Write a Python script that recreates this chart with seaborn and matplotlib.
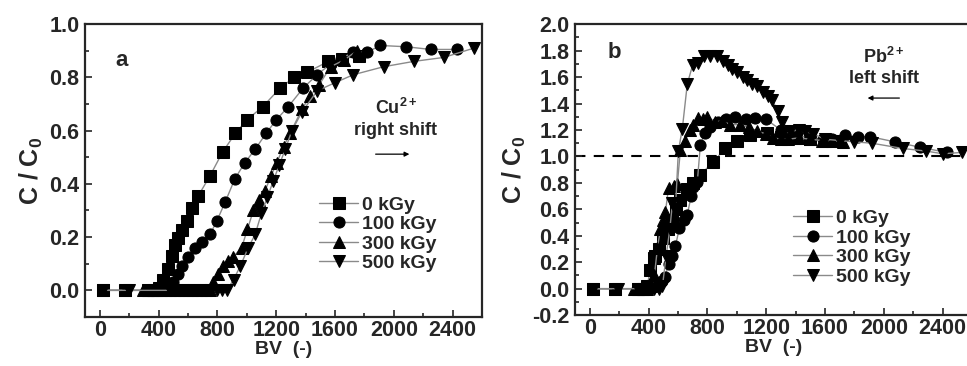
import matplotlib
matplotlib.use("Agg")
import matplotlib.pyplot as plt
import seaborn as sns
from matplotlib.ticker import MultipleLocator

sns.set_style("ticks")
plt.rcParams["font.family"] = ["Liberation Sans", "DejaVu Sans"]
plt.rcParams["font.weight"] = "bold"
plt.rcParams["axes.unicode_minus"] = False
plt.rcParams["mathtext.fontset"] = "custom"
plt.rcParams["mathtext.rm"] = "Liberation Sans:bold"
plt.rcParams["mathtext.it"] = "Liberation Sans:bold"
plt.rcParams["mathtext.bf"] = "Liberation Sans:bold"

labels = ["0 kGy", "100 kGy", "300 kGy", "500 kGy"]
markers = ["s", "o", "^", "v"]

# panel a - Cu2+
a0_x = [20, 170, 330, 370, 400, 430, 465, 490, 510, 533, 557, 592, 625, 670, 750, 836, 923, 1000,
        1109, 1227, 1323, 1413, 1555, 1650, 1760]
a0_y = [0, 0, 0, 0, 0.01, 0.04, 0.08, 0.13, 0.17, 0.195, 0.225, 0.26, 0.31, 0.355, 0.43, 0.52, 0.59,
        0.64, 0.69, 0.76, 0.80, 0.82, 0.86, 0.87, 0.88]
a1_x = [20, 170, 360, 400, 440, 470, 500, 530, 557, 600, 648, 693, 750, 796, 852, 920, 988, 1057,
        1132, 1200, 1282, 1384, 1478, 1570, 1640, 1725, 1820, 1909, 2086, 2250, 2433]
a1_y = [0, 0, 0, 0, 0, 0.01, 0.03, 0.06, 0.09, 0.125, 0.16, 0.18, 0.21, 0.26, 0.33, 0.42, 0.48, 0.53,
        0.59, 0.64, 0.69, 0.76, 0.81, 0.85, 0.87, 0.895, 0.895, 0.92, 0.915, 0.905, 0.905]
a3_x = [20, 170, 295, 330, 360, 390, 420, 450, 480, 510, 540, 570, 600, 630, 660, 690, 720, 750,
        770, 805, 840, 870, 907, 965, 1005, 1045, 1085, 1125, 1165, 1205, 1250, 1295, 1375, 1430,
        1490, 1570, 1660, 1750]
a3_y = [0, 0, 0, 0, 0, 0, 0, 0, 0, 0, 0, 0, 0, 0, 0, 0, 0, 0,
        0.03, 0.06, 0.09, 0.11, 0.125, 0.16, 0.23, 0.30, 0.34, 0.375, 0.43, 0.48, 0.54, 0.59, 0.68,
        0.73, 0.77, 0.84, 0.865, 0.90]
a5_x = [20, 200, 480, 520, 560, 600, 640, 680, 720, 760, 800, 835, 865, 910, 955, 1010, 1057, 1100,
        1140, 1180, 1220, 1262, 1307, 1375, 1480, 1600, 1725, 1930, 2135, 2340, 2545]
a5_y = [0, 0, 0, 0, 0, 0, 0, 0, 0, 0, 0, 0, 0, 0.04, 0.09, 0.16, 0.21, 0.29,
        0.35, 0.41, 0.47, 0.53, 0.60, 0.67, 0.75, 0.78, 0.81, 0.84, 0.86, 0.875, 0.91]

# panel b - Pb2+
b0_x = [20, 170, 330, 360, 390, 413, 434, 447, 470, 500, 530, 560, 590, 617, 664, 700, 753, 841,
        922, 1003, 1091, 1207, 1300, 1400, 1500, 1600, 1700]
b0_y = [0, 0, 0, 0, 0.02, 0.14, 0.23, 0.25, 0.30, 0.38, 0.45, 0.52, 0.60, 0.67, 0.75, 0.80, 0.86,
        0.96, 1.06, 1.12, 1.16, 1.18, 1.15, 1.14, 1.13, 1.12, 1.12]
b1_x = [20, 170, 360, 400, 430, 460, 490, 515, 536, 560, 583, 610, 640, 664, 690, 705, 732, 753,
        786, 820, 870, 930, 990, 1060, 1125, 1200, 1300, 1400, 1500, 1586, 1650, 1736, 1824, 1905,
        2075, 2244, 2427]
b1_y = [0, 0, 0, 0, 0.01, 0.03, 0.06, 0.09, 0.19, 0.25, 0.32, 0.46, 0.52, 0.56, 0.70, 0.77, 0.81,
        1.09, 1.18, 1.22, 1.26, 1.28, 1.30, 1.28, 1.29, 1.28, 1.20, 1.16, 1.14, 1.13, 1.13, 1.16,
        1.15, 1.15, 1.11, 1.07, 1.03]
b3_x = [20, 170, 300, 330, 360, 390, 420, 440, 461, 481, 500, 515, 536, 570, 596, 617, 651, 680,
        705, 739, 770, 800, 854, 900, 956, 1020, 1080, 1139, 1200, 1247, 1300, 1350, 1420, 1500,
        1580, 1650, 1720]
b3_y = [0, 0, 0, 0, 0, 0, 0.02, 0.10, 0.31, 0.45, 0.52, 0.58, 0.76, 0.78, 0.79, 1.05, 1.12, 1.20,
        1.24, 1.29, 1.28, 1.30, 1.26, 1.27, 1.24, 1.24, 1.22, 1.19, 1.17, 1.14, 1.13, 1.13, 1.14,
        1.13, 1.12, 1.12, 1.11]
b5_x = [20, 190, 330, 370, 410, 440, 470, 495, 520, 545, 563, 583, 603, 630, 664, 700, 739, 780,
        820, 868, 905, 942, 970, 1003, 1040, 1071, 1105, 1139, 1180, 1210, 1240, 1281, 1308, 1363,
        1420, 1464, 1520, 1600, 1700, 1800, 1919, 2129, 2290, 2400, 2530]
b5_y = [0, 0, 0, 0, 0, 0, 0, 0.02, 0.25, 0.45, 0.65, 0.60, 1.04, 1.21, 1.55, 1.69, 1.71, 1.76,
        1.76, 1.76, 1.72, 1.69, 1.66, 1.64, 1.60, 1.58, 1.55, 1.53, 1.49, 1.46, 1.43, 1.34, 1.26,
        1.19, 1.20, 1.19, 1.17, 1.13, 1.12, 1.11, 1.10, 1.06, 1.04, 1.02, 1.03]

series_a = [(a0_x, a0_y), (a1_x, a1_y), (a3_x, a3_y), (a5_x, a5_y)]
series_b = [(b0_x, b0_y), (b1_x, b1_y), (b3_x, b3_y), (b5_x, b5_y)]

fig = plt.figure(figsize=(9.67, 3.66), dpi=100)
ax_a = fig.add_axes([0.0879, 0.134, 0.4106, 0.80])
ax_b = fig.add_axes([0.5946, 0.139, 0.4106, 0.795])


def draw(ax, series):
    for (x, y), m, lab in zip(series, markers, labels):
        sns.lineplot(x=x, y=y, ax=ax, estimator=None, sort=False, color="#8a8a8a", lw=1.0,
                     marker=m, markersize=8, markerfacecolor="black",
                     markeredgecolor="black", label=lab)
    ax.set_xlim(-100, 2600)
    ax.xaxis.set_major_locator(MultipleLocator(400))
    ax.xaxis.set_minor_locator(MultipleLocator(200))
    ax.yaxis.set_major_locator(MultipleLocator(0.2))
    ax.yaxis.set_minor_locator(MultipleLocator(0.1))
    ax.tick_params(which="both", direction="in", top=False, right=False, width=1.2)
    ax.tick_params(which="major", length=5, labelsize=15.5)
    ax.tick_params(axis="x", which="major", pad=2)
    ax.tick_params(axis="y", which="major", pad=4)
    ax.tick_params(which="minor", length=3)
    for s in ax.spines.values():
        s.set_linewidth(1.6)
    ax.set_xlabel("BV  (-)", fontsize=14, fontweight="bold", labelpad=0)
    ax.set_ylabel("C / C$_0$", fontsize=18, fontweight="bold", labelpad=3)
    for t in ax.get_xticklabels() + ax.get_yticklabels():
        t.set_fontweight("bold")


draw(ax_a, series_a)
ax_a.set_ylim(-0.1, 1.0)
ax_a.legend(loc="upper left", bbox_to_anchor=(0.57, 0.44), frameon=False, fontsize=14,
            handlelength=2.0, handletextpad=0.2, labelspacing=0.1, borderaxespad=0)
ax_a.text(0.076, 0.877, "a", transform=ax_a.transAxes, fontsize=16, fontweight="bold",
          va="center")
ax_a.text(0.783, 0.713, "Cu$^{2+}$", transform=ax_a.transAxes, fontsize=13,
          fontweight="bold", ha="center", va="center")
ax_a.text(0.783, 0.638, "right shift", transform=ax_a.transAxes, fontsize=13,
          fontweight="bold", ha="center", va="center")
ax_a.annotate("", xy=(0.824, 0.556), xytext=(0.725, 0.556), xycoords="axes fraction",
              arrowprops=dict(arrowstyle="-|>", color="black", lw=0.9, mutation_scale=7))

draw(ax_b, series_b)
ax_b.set_ylim(-0.2, 2.0)
ax_b.axhline(1.0, color="black", ls=(0, (5, 4)), lw=1.5, zorder=0)
ax_b.legend(loc="upper left", bbox_to_anchor=(0.53, 0.39), frameon=False, fontsize=14,
            handlelength=2.0, handletextpad=0.2, labelspacing=0.1, borderaxespad=0)
ax_b.text(0.083, 0.904, "b", transform=ax_b.transAxes, fontsize=16, fontweight="bold",
          va="center")
ax_b.text(0.778, 0.887, "Pb$^{2+}$", transform=ax_b.transAxes, fontsize=13,
          fontweight="bold", ha="center", va="center")
ax_b.text(0.778, 0.814, "left shift", transform=ax_b.transAxes, fontsize=13,
          fontweight="bold", ha="center", va="center")
ax_b.annotate("", xy=(0.730, 0.746), xytext=(0.824, 0.746), xycoords="axes fraction",
              arrowprops=dict(arrowstyle="-|>", color="black", lw=0.9, mutation_scale=7))

fig.savefig("out.png", dpi=100)
